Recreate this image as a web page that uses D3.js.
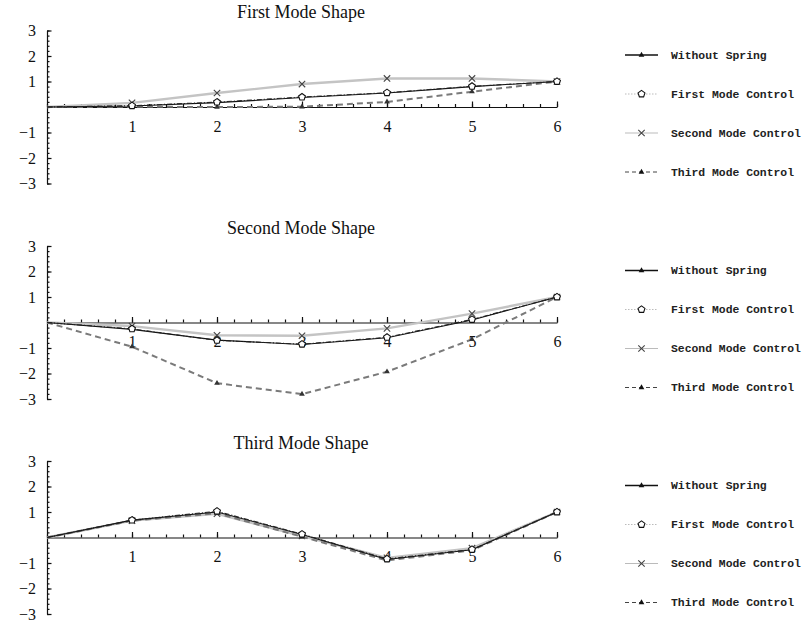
<!DOCTYPE html>
<html>
<head>
<meta charset="utf-8">
<script src="https://cdn.jsdelivr.net/npm/d3@7"></script>
<style>
  html, body { margin: 0; padding: 0; background: #fff; }
  svg { display: block; }
  .title { font-family: "Liberation Serif", "Times New Roman", serif; font-size: 18px; fill: #111; }
  .axis text { font-family: "Liberation Serif", "Times New Roman", serif; font-size: 16px; fill: #111; }
  .axis path, .axis line { stroke: #111; stroke-width: 1.2; }
  .legend text { font-family: "Liberation Mono", "Courier New", monospace; font-weight: bold; font-size: 11.4px; fill: #222; }
</style>
</head>
<body>
<svg id="chart" width="806" height="625"></svg>
<script>
// Node positions along the beam
const nodes = [0, 1, 2, 3, 4, 5, 6];
const xTickValues = [1, 2, 3, 4, 5, 6];
const yTickValues = [-3, -2, -1, 1, 2, 3];

const panelTitles = ["First Mode Shape", "Second Mode Shape", "Third Mode Shape"];
const seriesNames = ["Without Spring", "First Mode Control", "Second Mode Control", "Third Mode Control"];

// First mode shape
const mode1WithoutSpring = [0, 0.04, 0.17, 0.37, 0.55, 0.80, 1.0];
const mode1FirstControl  = [0, 0.05, 0.19, 0.39, 0.56, 0.81, 1.0];
const mode1SecondControl = [0, 0.16, 0.55, 0.90, 1.12, 1.12, 1.0];
const mode1ThirdControl  = [0, 0.01, 0.0, 0.01, 0.20, 0.60, 1.0];

// Second mode shape
const mode2WithoutSpring = [0, -0.27, -0.69, -0.86, -0.60, 0.10, 1.0];
const mode2FirstControl  = [0, -0.25, -0.70, -0.85, -0.58, 0.12, 1.0];
const mode2SecondControl = [0, -0.14, -0.50, -0.52, -0.23, 0.35, 1.0];
const mode2ThirdControl  = [0, -0.95, -2.38, -2.81, -1.93, -0.66, 1.0];

// Third mode shape
const mode3WithoutSpring = [0, 0.68, 1.00, 0.12, -0.86, -0.48, 1.0];
const mode3FirstControl  = [0, 0.68, 1.03, 0.13, -0.84, -0.47, 1.0];
const mode3SecondControl = [0, 0.66, 0.93, 0.06, -0.80, -0.42, 1.0];
const mode3ThirdControl  = [0, 0.66, 0.95, 0.03, -0.90, -0.50, 1.0];

const panels = [
  { title: panelTitles[0], series: [mode1WithoutSpring, mode1FirstControl, mode1SecondControl, mode1ThirdControl] },
  { title: panelTitles[1], series: [mode2WithoutSpring, mode2FirstControl, mode2SecondControl, mode2ThirdControl] },
  { title: panelTitles[2], series: [mode3WithoutSpring, mode3FirstControl, mode3SecondControl, mode3ThirdControl] }
];

// Plot line styles, one per series
const lineStyles = [
  { stroke: "#111", width: 1.1, dash: null, marker: "triangle", order: 2 },
  { stroke: "#222", width: 1.1, dash: "5,2,1,2", marker: "pentagon", order: 3 },
  { stroke: "#c4c4c4", width: 2.4, dash: null, marker: "cross", order: 0 },
  { stroke: "#7a7a7a", width: 2.0, dash: "6,4", marker: "triangle", order: 1 }
];
// Legend swatch styles
const legendStyles = [
  { stroke: "#111", width: 1.3, dash: null, marker: "triangle" },
  { stroke: "#bbb", width: 1.0, dash: "1.5,1.5", marker: "pentagon" },
  { stroke: "#bbb", width: 1.2, dash: null, marker: "cross" },
  { stroke: "#444", width: 1.0, dash: "4,3", marker: "triangle" }
];

const svg = d3.select("#chart");
const panelCenters = [107, 322.5, 537.5];
const halfHeight = 76.5;
const x = d3.scaleLinear().domain([0, 6]).range([47, 557]);

function drawMarker(g, type, cx, cy, color) {
  if (type === "triangle") {
    g.append("path")
      .attr("d", d3.symbol(d3.symbolTriangle, 14)())
      .attr("transform", `translate(${cx},${cy})`)
      .attr("fill", color);
  } else if (type === "pentagon") {
    const r = 3.6;
    const pts = d3.range(5).map(i => {
      const a = -Math.PI / 2 + i * 2 * Math.PI / 5;
      return [cx + r * Math.cos(a), cy + r * Math.sin(a)];
    });
    g.append("polygon")
      .attr("points", pts.map(p => p.join(",")).join(" "))
      .attr("fill", "#fff").attr("stroke", "#111").attr("stroke-width", 1.1);
  } else if (type === "cross") {
    const s = 3.2;
    g.append("path")
      .attr("d", `M${cx - s},${cy - s}L${cx + s},${cy + s}M${cx - s},${cy + s}L${cx + s},${cy - s}`)
      .attr("stroke", "#444").attr("stroke-width", 1.1).attr("fill", "none");
  }
}

panels.forEach((panel, pi) => {
  const cy = panelCenters[pi];
  const y = d3.scaleLinear().domain([-3, 3]).range([cy + halfHeight, cy - halfHeight]);
  const g = svg.append("g");

  // Title
  g.append("text").attr("class", "title")
    .attr("x", 301).attr("y", cy - 89)
    .attr("text-anchor", "middle")
    .text(panel.title);

  // x axis along y = 0: minor ticks, then labelled major ticks
  g.append("g").attr("class", "axis")
    .attr("transform", `translate(0,${y(0)})`)
    .call(d3.axisBottom(x).tickValues(d3.range(0, 6.0001, 0.2)).tickSize(-3).tickSizeOuter(0).tickFormat(""));
  g.append("g").attr("class", "axis")
    .attr("transform", `translate(0,${y(0)})`)
    .call(d3.axisBottom(x).tickValues(xTickValues).tickSize(-5.5).tickSizeOuter(0).tickPadding(13.5).tickFormat(d3.format("d")))
    .call(a => a.select(".domain").remove());

  // y axis at x = 0
  g.append("g").attr("class", "axis")
    .attr("transform", `translate(${x(0)},0)`)
    .call(d3.axisLeft(y).tickValues(d3.range(-3, 3.0001, 0.2)).tickSize(-2.5).tickSizeOuter(0).tickFormat(""));
  g.append("g").attr("class", "axis")
    .attr("transform", `translate(${x(0)},0)`)
    .call(d3.axisLeft(y).tickValues(yTickValues).tickSize(-4.5).tickSizeOuter(0).tickPadding(11).tickFormat(d3.format("d")))
    .call(a => a.select(".domain").remove());

  // Series lines, light ones underneath
  const order = d3.range(4).sort((a, b) => lineStyles[a].order - lineStyles[b].order);
  const line = d3.line().x((d, i) => x(nodes[i])).y(d => y(d));
  order.forEach(si => {
    const st = lineStyles[si];
    const vals = panel.series[si];
    g.append("path")
      .datum(vals)
      .attr("d", line)
      .attr("fill", "none")
      .attr("stroke", st.stroke)
      .attr("stroke-width", st.width)
      .attr("stroke-dasharray", st.dash)
      .attr("stroke-linejoin", "round");
    vals.forEach((v, i) => {
      if (i === 0) return;
      drawMarker(g, st.marker, x(nodes[i]), y(v), si === 3 ? "#333" : "#111");
    });
  });

  // Legend
  const lg = g.append("g").attr("class", "legend");
  const rowStart = cy - 52;
  seriesNames.forEach((name, si) => {
    const ry = rowStart + si * 39;
    const st = legendStyles[si];
    lg.append("line")
      .attr("x1", 625).attr("x2", 658).attr("y1", ry).attr("y2", ry)
      .attr("stroke", st.stroke).attr("stroke-width", st.width)
      .attr("stroke-dasharray", st.dash);
    drawMarker(lg, st.marker, 641.5, ry, "#111");
    lg.append("text").attr("x", 671).attr("y", ry).attr("dy", "0.35em").text(name);
  });
});
</script>
</body>
</html>
